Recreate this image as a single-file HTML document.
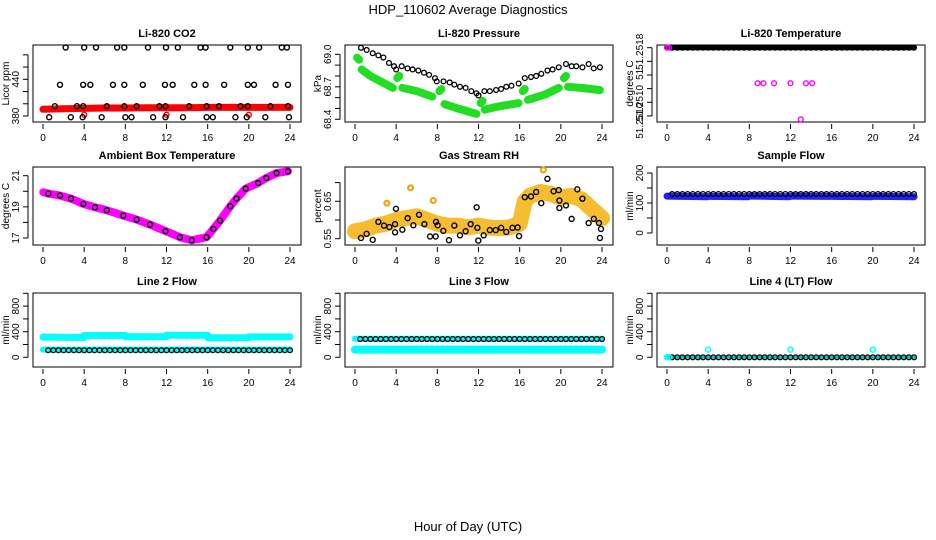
<!DOCTYPE html>
<html><head><meta charset="utf-8"><style>
html,body{margin:0;padding:0;background:#fff;}
svg{display:block;font-family:"Liberation Sans",sans-serif;}
</style></head><body>
<svg id="chart" width="936" height="540" viewBox="0 0 936 540"></svg>
<script>
// ---------- DATA ----------
const hourTicks = [0,4,8,12,16,20,24];
const circleHours = [0.5,1,1.5,2,2.5,3,3.5,4,4.5,5,5.5,6,6.5,7,7.5,8,8.5,9,9.5,10,10.5,11,11.5,12,12.5,13,13.5,14,14.5,15,15.5,16,16.5,17,17.5,18,18.5,19,19.5,20,20.5,21,21.5,22,22.5,23,23.5,24];

// CO2
const co2BlackH = [2.2,4.0,5.15,7.2,7.9,10.2,11.95,13.1,15.3,15.8,18.2,19.9,21.0,23.2,23.7, 1.65,3.9,4.6,6.8,7.9,9.7,11.85,12.6,14.7,15.8,17.6,19.9,20.5,22.6,23.8, 1.15,3.3,3.9,6.2,7.9,9.1,11.3,11.9,14.2,15.9,17.1,19.2,19.9,22.1,23.8, 0.6,2.7,3.85,5.7,8.0,8.6,10.7,11.9,13.6,15.9,16.5,18.7,19.8,21.6,23.9];
const co2BlackV = [492,492,492,492,492,492,492,492,492,492,492,492,492,492,492, 431,431,431,431,431,431,431,431,431,431,431,431,431,431,431, 396,396,396,396,396,396,396,396,396,396,396,396,396,396,396, 378,378,378,378,378,378,378,378,378,378,378,378,378,378,378];
const co2RedH = [0,2,4,6,8,10,12,14,16,18,20,22,24];
const co2RedV = [391,392,392.5,393,393,393.5,393.5,393.5,394,394,394,394,394];
const co2RedOutH = [4.0,12.0,20.0];
const co2RedOutV = [382,382,382];

// Pressure
const presBlackH = [0.58,1.13,1.72,2.27,2.76,3.3,3.79,4.0,4.54,5.1,5.6,6.15,6.7,7.2,7.77,7.94,8.6,9.2,9.65,10.2,10.75,11.3,11.8,12.0,12.57,13.1,13.7,14.2,14.7,15.2,15.9,16.5,17.1,17.6,18.1,18.7,19.2,19.8,20.5,21.05,21.5,22.1,22.7,23.2,23.8];
const presBlackV = [69.06,69.04,69.01,68.99,68.97,68.92,68.89,68.86,68.89,68.87,68.86,68.85,68.83,68.81,68.78,68.75,68.75,68.74,68.72,68.70,68.69,68.66,68.64,68.62,68.66,68.66,68.67,68.68,68.70,68.71,68.73,68.78,68.79,68.80,68.82,68.85,68.86,68.88,68.91,68.89,68.89,68.88,68.91,68.87,68.88];
const presGreenH = [0.2,0.4,null,0.65,1.5,2.5,3.68,null,4.1,4.3,null,4.6,6,7.5,null,8.2,8.4,null,8.7,10,11.8,null,12.2,12.4,null,12.6,14,15.9,null,16.3,16.5,null,16.8,18.5,19.8,null,20.3,20.5,null,20.7,22,23.8];
const presGreenV = [68.97,68.95,null,68.86,68.80,68.75,68.69,null,68.78,68.80,null,68.69,68.66,68.61,null,68.66,68.68,null,68.54,68.50,68.45,null,68.55,68.57,null,68.49,68.52,68.55,null,68.66,68.68,null,68.58,68.63,68.69,null,68.78,68.80,null,68.70,68.69,68.67];

// Li-820 temperature
const tempBlackV = [51.2518,51.2518,51.2518,51.2518,51.2518,51.2518,51.2518,51.2518,51.2518,51.2518,51.2518,51.2518,51.2518,51.2518,51.2518,51.2518,51.2518,51.2518,51.2518,51.2518,51.2518,51.2518,51.2518,51.2518,51.2518,51.2518,51.2518,51.2518,51.2518,51.2518,51.2518,51.2518,51.2518,51.2518,51.2518,51.2518,51.2518,51.2518,51.2518,51.2518,51.2518,51.2518,51.2518,51.2518,51.2518,51.2518,51.2518,51.2518];
const tempMagH = [0,0.2,8.8,9.37,10.4,12.0,13.0,13.5,14.1];
const tempMagV = [51.2518,51.2518,51.25128,51.25128,51.25128,51.25128,51.25075,51.25128,51.25128];
const tempLabelVals = [51.25174,51.25141,51.25099,51.25073];
const tempLabelText = ['51.2518','51','51.2510','51.2510'];

// Ambient box temperature
const ambH = [0.03,0.52,1.65,2.72,3.92,5.05,6.2,7.8,9.1,10.4,11.9,13.3,14.45,15.9,16.55,17.2,18.2,18.8,19.7,20.9,21.7,22.7,23.8];
const ambV = [19.94,19.85,19.72,19.53,19.19,18.97,18.78,18.44,18.18,17.86,17.44,17.05,16.86,17.05,17.58,18.12,19.04,19.53,20.17,20.53,20.85,21.17,21.28];

// Gas stream RH
const rhBlackH = [0.58,1.13,1.72,2.27,2.82,3.34,3.89,3.89,3.98,4.6,5.12,5.67,6.22,6.74,7.29,7.84,7.87,8.03,8.58,9.13,9.65,10.2,10.75,11.24,11.82,11.89,11.98,12.5,13.1,13.67,14.2,14.7,15.3,15.8,15.94,16.5,17.1,17.6,18.1,18.7,19.3,19.8,19.86,19.86,20.5,21.05,21.6,22.1,22.7,23.2,23.7,23.8,23.9];
const rhBlackV = [0.552,0.563,0.547,0.595,0.585,0.581,0.589,0.567,0.630,0.574,0.605,0.586,0.614,0.589,0.556,0.556,0.595,0.586,0.571,0.546,0.585,0.559,0.570,0.589,0.634,0.579,0.545,0.559,0.573,0.573,0.579,0.568,0.579,0.580,0.557,0.661,0.663,0.675,0.645,0.710,0.677,0.680,0.652,0.632,0.639,0.603,0.682,0.657,0.592,0.603,0.592,0.552,0.576];
const rhBandH = [0,1,2,3,4,5,6,7,8,9,10,11,12,13,14,15,16,16.5,17,18,19,20,21,22,23,24];
const rhBandV = [0.570,0.575,0.585,0.590,0.600,0.605,0.610,0.600,0.590,0.585,0.585,0.580,0.585,0.580,0.578,0.580,0.590,0.650,0.665,0.675,0.670,0.660,0.665,0.655,0.630,0.605];
const rhOutH = [3.1,5.4,7.6,18.3];
const rhOutV = [0.645,0.686,0.652,0.734];

// Sample flow
const sampleBlackV = [130,130,130,130,130,130,130,130,130,130,130,130,130,130,130,130,130,130,130,130,130,130,130,130,130,130,130,130,130,130,130,130,130,130,130,130,130,130,130,130,130,130,130,130,130,130,130,130];
const sampleBlueH = [0,3.9,null,4.1,7.9,null,8.1,11.9,null,12.1,15.9,null,16.1,19.9,null,20.1,24];
const sampleBlueV = [123,121,null,122,121,null,123,121,null,123,122,null,122,121,null,122,121];

// Line 2 flow
const line2BlackV = [110,110,110,110,110,110,110,110,110,110,110,110,110,110,110,110,110,110,110,110,110,110,110,110,110,110,110,110,110,110,110,110,110,110,110,110,110,110,110,110,110,110,110,110,110,110,110,110];
const line2CyanH = [0,4,null,4,8,null,8,12,null,12,16,null,16,20,null,20,24];
const line2CyanV = [315,310,null,340,340,null,320,320,null,345,345,null,305,305,null,318,318];
const line2CyanLowH = [0,24];
const line2CyanLowV = [120,120];

// Line 3 flow
const line3BlackV = [285,285,285,285,285,285,285,285,285,285,285,285,285,285,285,285,285,285,285,285,285,285,285,285,285,285,285,285,285,285,285,285,285,285,285,285,285,285,285,285,285,285,285,285,285,285,285,285];
const line3CyanH = [0,24];
const line3CyanV = [290,290];
const line3CyanLowH = [0,24];
const line3CyanLowV = [120,120];

// Line 4 flow
const line4BlackV = [0,0,0,0,0,0,0,0,0,0,0,0,0,0,0,0,0,0,0,0,0,0,0,0,0,0,0,0,0,0,0,0,0,0,0,0,0,0,0,0,0,0,0,0,0,0,0,0];
const line4CyanH = [0,0.2,4.0,12.0,20.0];
const line4CyanV = [0,0,120,120,120];

// ---------- RENDER ----------
const NS = "http://www.w3.org/2000/svg";
const svg = document.getElementById('chart');
function mk(tag, attrs, parent) {
  const e = document.createElementNS(NS, tag);
  for (const k in attrs) e.setAttribute(k, attrs[k]);
  (parent || svg).appendChild(e);
  return e;
}
const rowTop = [45, 167, 293], rowBot = [122, 245, 367];
function xScale(col) { const o = col * 312; return h => 43 + o + h * (247 / 24); }
function yScale(v1, p1, v2, p2) { return v => p1 + (v - v1) * (p2 - p1) / (v2 - v1); }

function panel(col, row, title, ylab, yTicks, yLabels, ys) {
  const o = col * 312;
  const g = mk('g', {});
  
  
  const fr = mk('rect', {x: 33 + o, y: rowTop[row], width: 268, height: rowBot[row] - rowTop[row], fill: 'none', stroke: '#000', 'stroke-width': 1}, g);
  
  
  const t = mk('text', {x: 167 + o, y: rowTop[row] - 8, 'text-anchor': 'middle', 'font-size': 11, 'font-weight': 'bold'}, g);
  t.textContent = title;
  
  
  const xs = xScale(col);
  const b = rowBot[row];
  hourTicks.forEach(h => {
    const tk = mk('line', {x1: xs(h), x2: xs(h), y1: b + 2, y2: b + 7, stroke: '#000'}, g);
    
    
    const tl = mk('text', {x: xs(h), y: b + 19, 'text-anchor': 'middle', 'font-size': 10}, g);
    tl.textContent = h;
    
    
  });
  const yl = mk('line', {x1: 28 + o, x2: 28 + o, y1: ys(yTicks[0]), y2: ys(yTicks[yTicks.length - 1]), stroke: '#000'}, g);
  
  
  yTicks.forEach(v => {
    const tk = mk('line', {x1: 23 + o, x2: 28 + o, y1: ys(v), y2: ys(v), stroke: '#000'}, g);
    
    
  });
  yLabels.forEach(l => {
    const yy = ys(l[0]);
    const tl = mk('text', {x: 19 + o, y: yy, 'text-anchor': 'middle', 'font-size': 10, transform: 'rotate(-90 ' + (19 + o) + ' ' + yy + ')'}, g);
    tl.textContent = l[1];
    
    
  });
  const cy = (rowTop[row] + rowBot[row]) / 2;
  const at = mk('text', {x: 9 + o, y: cy, 'text-anchor': 'middle', 'font-size': 10, transform: 'rotate(-90 ' + (9 + o) + ' ' + cy + ')'}, g);
  at.textContent = ylab;
  
  
  return {g, xs, ys};
}
function points(p, H, V, color, r, sw, name) {
  H.forEach((h, i) => {
    const c = mk('circle', {cx: p.xs(h), cy: p.ys(V[i]), r: r, fill: 'none', stroke: color, 'stroke-width': sw}, p.g);
    
    
  });
}
function band(p, H, V, color, w, name) {
  let d = '', start = true;
  H.forEach((h, i) => {
    if (h === null || V[i] === null) { start = true; return; }
    d += (start ? 'M' : 'L') + p.xs(h).toFixed(1) + ',' + p.ys(V[i]).toFixed(1);
    start = false;
  });
  const path = mk('path', {d: d, fill: 'none', stroke: color, 'stroke-width': w, 'stroke-linecap': 'round', 'stroke-linejoin': 'round'}, p.g);
  
  
}

// title
const mt = mk('text', {x: 468, y: 14, 'text-anchor': 'middle', 'font-size': 13});
mt.textContent = 'HDP_110602  Average Diagnostics';


const xt = mk('text', {x: 468, y: 531, 'text-anchor': 'middle', 'font-size': 13});
xt.textContent = 'Hour of Day (UTC)';



// P1 CO2
let p = panel(0, 0, 'Li-820 CO2', 'Licor ppm', [380,400,420,440,460,480], [[380,'380'],[440,'440']], yScale(380, 116, 440, 79.3));
band(p, co2RedH, co2RedV, '#ff0000', 7, 'co2-red-band');
points(p, co2RedOutH, co2RedOutV, '#ff0000', 2.5, 1.4, 'co2-red-point');
points(p, co2BlackH, co2BlackV, '#000', 2.5, 1.4, 'co2-point');

// P2 Pressure
p = panel(1, 0, 'Li-820 Pressure', 'kPa', [68.4,68.5,68.6,68.7,68.8,68.9,69.0], [[68.4,'68.4'],[68.7,'68.7'],[69.0,'69.0']], yScale(69.0, 54.3, 68.4, 119.3));
band(p, presGreenH, presGreenV, '#22dd22', 8, 'pressure-green-band');
points(p, presBlackH, presBlackV, '#000', 2.4, 1.3, 'pressure-point');

// P3 Li-820 temperature
p = panel(2, 0, 'Li-820 Temperature', 'degrees C', [51.2518,51.2516,51.2514,51.2512,51.2510,51.2508], tempLabelVals.map((v, i) => [v, tempLabelText[i]]), yScale(51.2518, 47.7, 51.2510, 102.3));
band(p, [0,24], [51.2518,51.2518], '#000', 5, 'temp-black-band');
points(p, circleHours, tempBlackV, '#000', 2.4, 1.3, 'temp-point');
points(p, tempMagH, tempMagV, '#ff00ff', 2.4, 1.4, 'temp-magenta-point');

// P4 Ambient
p = panel(0, 1, 'Ambient Box Temperature', 'degrees C', [17,18,19,20,21], [[17,'17'],[19,'19'],[21,'21']], yScale(21, 175.7, 17, 238));
band(p, ambH, ambV, '#ff00ff', 8, 'ambient-magenta-band');
points(p, ambH.slice(1), ambV.slice(1), '#000', 2.5, 1.4, 'ambient-point');

// P5 Gas RH
p = panel(1, 1, 'Gas Stream RH', 'percent', [0.55,0.60,0.65,0.70], [[0.55,'0.55'],[0.65,'0.65']], yScale(0.65, 201.3, 0.55, 238.7));
band(p, rhBandH, rhBandV, '#f6bd30', 16, 'rh-orange-band');
points(p, rhOutH, rhOutV, '#f2a000', 2.5, 2, 'rh-orange-point');
points(p, rhBlackH, rhBlackV, '#000', 2.5, 1.4, 'rh-point');

// P6 Sample flow
p = panel(2, 1, 'Sample Flow', 'ml/min', [0,50,100,150,200], [[0,'0'],[100,'100'],[200,'200']], yScale(200, 173, 0, 233));
band(p, sampleBlueH, sampleBlueV, '#1f1fff', 7, 'sample-blue-band');
points(p, circleHours, sampleBlackV, '#000', 2.4, 1.3, 'sample-point');

// P7 Line 2
const flowY = yScale(0, 357.3, 400, 331.7);
p = panel(0, 2, 'Line 2 Flow', 'ml/min', [0,200,400,600,800,1000], [[0,'0'],[400,'400'],[800,'800']], flowY);
band(p, line2CyanH, line2CyanV, '#00ffff', 7, 'line2-cyan-band');
band(p, line2CyanLowH, line2CyanLowV, '#00ffff', 6, 'line2-cyan-low-band');
points(p, circleHours, line2BlackV, '#000', 2.4, 1.3, 'line2-point');

// P8 Line 3
p = panel(1, 2, 'Line 3 Flow', 'ml/min', [0,200,400,600,800,1000], [[0,'0'],[400,'400'],[800,'800']], flowY);
band(p, line3CyanH, line3CyanV, '#00ffff', 6, 'line3-cyan-band');
band(p, line3CyanLowH, line3CyanLowV, '#00ffff', 8, 'line3-cyan-low-band');
points(p, circleHours, line3BlackV, '#000', 2.4, 1.3, 'line3-point');

// P9 Line 4
p = panel(2, 2, 'Line 4 (LT) Flow', 'ml/min', [0,200,400,600,800,1000], [[0,'0'],[400,'400'],[800,'800']], flowY);
band(p, [0,24], [0,0], '#00c8c8', 3, 'line4-cyan-band');
points(p, circleHours, line4BlackV, '#000', 2.4, 1.3, 'line4-point');
points(p, line4CyanH, line4CyanV, '#00ffff', 2.5, 1.5, 'line4-cyan-point');
</script>
</body></html>
